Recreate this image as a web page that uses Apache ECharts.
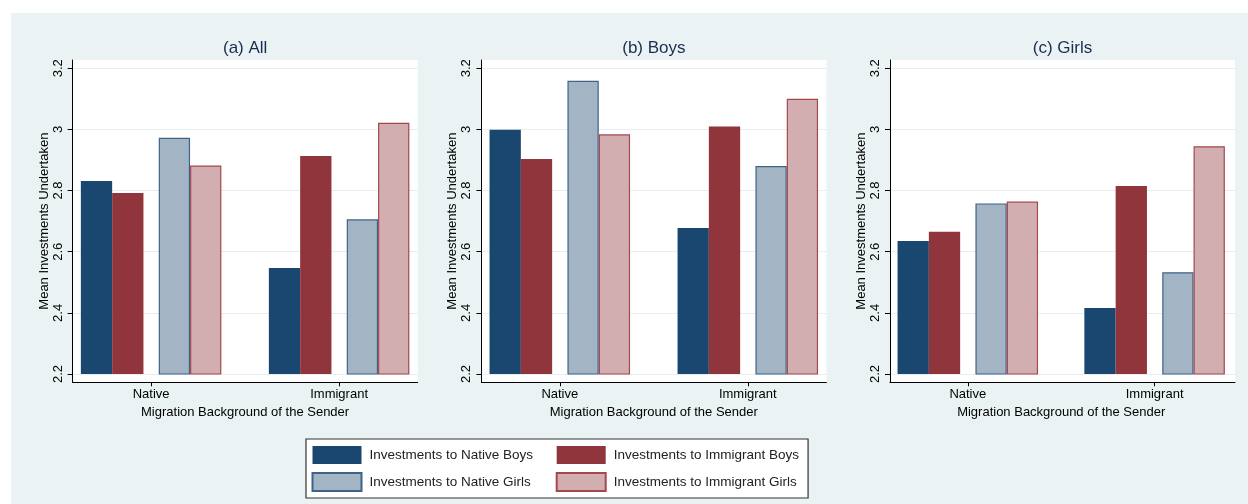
<!DOCTYPE html>
<html>
<head>
<meta charset="utf-8">
<script src="https://cdn.jsdelivr.net/npm/echarts@6/dist/echarts.min.js"></script>
<style>
  html, body { margin: 0; padding: 0; background: #ffffff; }
  #bg { position: absolute; left: 11px; top: 13px; width: 1237px; height: 491px; background: #eaf2f3; }
  #chart { position: absolute; left: 0; top: 0; width: 1248px; height: 504px; }
</style>
</head>
<body>
<div id="bg"></div>
<div id="chart"></div>
<script>
// ---- data ----
const categories = ['Native', 'Immigrant'];
const panelTitles = ['(a) All', '(b) Boys', '(c) Girls'];
const seriesNames = [
  'Investments to Native Boys',
  'Investments to Immigrant Boys',
  'Investments to Native Girls',
  'Investments to Immigrant Girls'
];
const yTickValues = [2.2, 2.4, 2.6, 2.8, 3, 3.2];
const xAxisTitle = 'Migration Background of the Sender';
const yAxisTitle = 'Mean Investments Undertaken';

// (a) All
const allNativeBoys    = [2.831, 2.547];
const allImmBoys       = [2.792, 2.913];
const allNativeGirls   = [2.973, 2.706];
const allImmGirls      = [2.882, 3.022];
// (b) Boys
const boysNativeBoys   = [2.999, 2.678];
const boysImmBoys      = [2.903, 3.010];
const boysNativeGirls  = [3.159, 2.880];
const boysImmGirls     = [2.984, 3.100];
// (c) Girls
const girlsNativeBoys  = [2.635, 2.416];
const girlsImmBoys     = [2.665, 2.815];
const girlsNativeGirls = [2.758, 2.533];
const girlsImmGirls    = [2.764, 2.945];

const panelData = [
  [allNativeBoys, allImmBoys, allNativeGirls, allImmGirls],
  [boysNativeBoys, boysImmBoys, boysNativeGirls, boysImmGirls],
  [girlsNativeBoys, girlsImmBoys, girlsNativeGirls, girlsImmGirls]
];

// ---- styles ----
const FONT = '"Liberation Sans", Arial, Helvetica, sans-serif';
const seriesStyles = [
  { color: '#1a476f', borderColor: '#1a476f', borderWidth: 0 },
  { color: '#90353b', borderColor: '#90353b', borderWidth: 0 },
  { color: '#a3b5c5', borderColor: '#3f6388', borderWidth: 1.2 },
  { color: '#d3aeb1', borderColor: '#a4474f', borderWidth: 1.2 }
];

const panelLeft = [72.7, 481.4, 890];
const panelWidth = 345;
const frameTop = 60, frameHeight = 322.3;
const plotTop = 68.3, plotHeight = 305.7;
const dataShift = 15.6, dataWidth = 376;
const barW = 31.3, spacerW = 15.3;

const grid = [], xAxis = [], yAxis = [], series = [], title = [];

panelLeft.forEach((L, p) => {
  const gFrame = grid.length;
  grid.push({ left: L, top: frameTop, width: panelWidth, height: frameHeight,
              show: true, backgroundColor: '#ffffff', borderWidth: 0 });
  const gLab = grid.length;
  grid.push({ left: L, top: plotTop, width: panelWidth, height: plotHeight });
  const gData = grid.length;
  grid.push({ left: L - dataShift, top: plotTop, width: dataWidth, height: plotHeight });

  // frame axes (lines only)
  const xf = xAxis.length;
  xAxis.push({ gridIndex: gFrame, type: 'category', data: ['f'],
    axisLine: { show: true, onZero: false, lineStyle: { color: '#000', width: 1 } },
    axisTick: { show: false }, axisLabel: { show: false }, splitLine: { show: false } });
  const yf = yAxis.length;
  yAxis.push({ gridIndex: gFrame, type: 'value', min: 0, max: 1,
    axisLine: { show: true, onZero: false, lineStyle: { color: '#000', width: 1 } },
    axisTick: { show: false }, axisLabel: { show: false }, splitLine: { show: false } });

  // label grid axes (y ticks, labels, gridlines)
  const xl = xAxis.length;
  xAxis.push({ gridIndex: gLab, type: 'category', data: categories, show: false });
  const yl = yAxis.length;
  yAxis.push({ gridIndex: gLab, type: 'value', min: 2.2, max: 3.2, interval: 0.2,
    axisLine: { show: false },
    axisTick: { show: true, length: 5, lineStyle: { color: '#000', width: 1 } },
    axisLabel: { show: true, rotate: 90, margin: 8, fontSize: 13, color: '#000', fontFamily: FONT },
    splitLine: { show: true, lineStyle: { color: '#e6eeef', width: 1 } },
    name: yAxisTitle, nameLocation: 'middle', nameRotate: 90, nameGap: 22,
    nameTextStyle: { fontSize: 13, color: '#000', fontFamily: FONT } });

  // data grid axes
  const xd = xAxis.length;
  xAxis.push({ gridIndex: gData, type: 'category', data: categories, offset: 8.3,
    axisLine: { show: false },
    axisTick: { show: true, alignWithLabel: true, length: 4, lineStyle: { color: '#000', width: 1 } },
    axisLabel: { show: true, margin: 6, fontSize: 13, color: '#000', fontFamily: FONT },
    splitLine: { show: false },
    name: xAxisTitle, nameLocation: 'middle', nameGap: 20,
    nameTextStyle: { fontSize: 13, color: '#000', fontFamily: FONT } });
  const yd = yAxis.length;
  yAxis.push({ gridIndex: gData, type: 'value', min: 2.2, max: 3.2, show: false, splitLine: { show: false } });

  // dummy series to activate frame and label grids
  series.push({ type: 'line', xAxisIndex: xf, yAxisIndex: yf, data: [], silent: true });
  series.push({ type: 'line', xAxisIndex: xl, yAxisIndex: yl, data: [], silent: true });

  const vals = panelData[p];
  const order = [0, 1, -1, 2, 3];
  order.forEach((k) => {
    if (k < 0) {
      series.push({ type: 'bar', name: 'spacer', xAxisIndex: xd, yAxisIndex: yd,
        barWidth: spacerW, barGap: '0%', data: categories.map(() => null), silent: true });
    } else {
      series.push({ type: 'bar', name: seriesNames[k], xAxisIndex: xd, yAxisIndex: yd,
        barWidth: barW, barGap: '0%', data: vals[k], itemStyle: seriesStyles[k] });
    }
  });

  title.push({ text: panelTitles[p], left: L + panelWidth / 2, top: 40, textAlign: 'center', padding: 0,
    textStyle: { fontSize: 17, fontWeight: 'normal', color: '#1c2b50', fontFamily: FONT } });
});

const legendCommon = {
  orient: 'vertical',
  itemWidth: 49, itemHeight: 18, itemGap: 8,
  icon: 'rect',
  textStyle: { fontSize: 13.5, color: '#222', fontFamily: FONT, padding: [0, 0, 0, 3] }
};

const chart = echarts.init(document.getElementById('chart'));
chart.setOption({
  animation: false,
  title: title,
  grid: grid,
  xAxis: xAxis,
  yAxis: yAxis,
  legend: [
    Object.assign({}, legendCommon, {
      data: [seriesNames[0], seriesNames[2]],
      left: 306, top: 439,
      padding: [7, 275, 6, 5.5],
      borderColor: '#333', borderWidth: 1.2, backgroundColor: '#ffffff'
    }),
    Object.assign({}, legendCommon, {
      data: [seriesNames[1], seriesNames[3]],
      left: 555.7, top: 446,
      padding: 0
    })
  ],
  series: series
});
</script>
</body>
</html>
